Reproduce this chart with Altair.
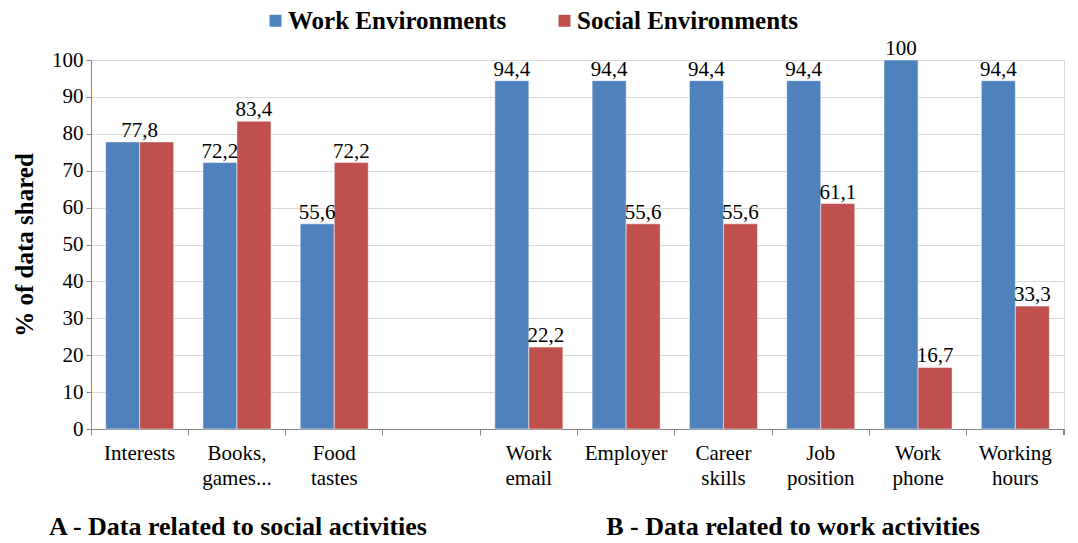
import altair as alt
import pandas as pd

categories = ["Interests", "Books,\ngames...", "Food\ntastes", " ", "Work\nemail",
              "Employer", "Career\nskills", "Job\nposition", "Work\nphone", "Working\nhours"]
work = [77.8, 72.2, 55.6, None, 94.4, 94.4, 94.4, 94.4, 100, 94.4]
social = [77.8, 83.4, 72.2, None, 22.2, 55.6, 55.6, 61.1, 16.7, 33.3]
series = ["Work Environments", "Social Environments"]
colors = ["#4F81BD", "#C0504D"]
captions = ["A - Data related to social activities", "B - Data related to work activities"]


def fmt(v):
    return (str(int(v)) if float(v).is_integer() else str(v)).replace(".", ",")


rows, single, paired = [], [], []
for c, w, s in zip(categories, work, social):
    if w is not None:
        rows.append({"cat": c, "series": series[0], "value": w})
    if s is not None:
        rows.append({"cat": c, "series": series[1], "value": s})
    if w is None:
        continue
    if w == s:
        single.append({"cat": c, "value": w, "label": fmt(w)})
    else:
        paired.append({"cat": c, "series": series[0], "value": w, "label": fmt(w)})
        paired.append({"cat": c, "series": series[1], "value": s, "label": fmt(s)})
df = pd.DataFrame(rows)
df_pair = pd.DataFrame(paired)
df_single = pd.DataFrame(single)

W, H = 973, 369
FONT = "Liberation Serif, Tinos, Times New Roman, DejaVu Serif, serif"
AX = "#868686"

xscale = alt.Scale(domain=categories, paddingInner=0, paddingOuter=0)
xenc = alt.X("cat:N", scale=xscale, sort=categories,
             axis=alt.Axis(title=None, labels=False, bandPosition=0, tickSize=6,
                           tickColor=AX, domainColor=AX, grid=False))
xoff = alt.XOffset("series:N", sort=series,
                   scale=alt.Scale(domain=series, paddingInner=0, paddingOuter=0.43))
yaxis = alt.Axis(title="% of data shared", values=list(range(0, 101, 10)), labelOverlap=False,
                 titleFont=FONT, titleFontSize=25, titleFontWeight="bold",
                 titleColor="black", titlePadding=14,
                 labelFont=FONT, labelFontSize=21, labelColor="black",
                 labelPadding=3, tickSize=5, tickColor=AX, domainColor=AX,
                 gridColor="#D9D9D9")
yenc = alt.Y("value:Q", scale=alt.Scale(domain=[0, 100]), axis=yaxis)

bars = alt.Chart(df).mark_bar(stroke="white", strokeWidth=0.5).encode(
    x=xenc, xOffset=xoff, y=yenc,
    color=alt.Color("series:N", sort=series,
                    scale=alt.Scale(domain=series, range=colors),
                    legend=alt.Legend(title=None, orient="none", direction="horizontal",
                                      legendX=172, legendY=-52, symbolType="square",
                                      symbolSize=144, symbolStrokeWidth=0,
                                      labelFont=FONT, labelFontSize=25, labelLimit=600,
                                      labelFontWeight="bold", labelColor="black",
                                      labelOffset=0, columnPadding=45, padding=0)),
)
vals = alt.Chart(df_pair).mark_text(baseline="bottom", dy=-1, font=FONT, fontSize=21,
                                    color="black").encode(
    x=alt.X("cat:N", scale=xscale, sort=categories), xOffset=xoff,
    y=yenc, text="label:N")
vals1 = alt.Chart(df_single).mark_text(baseline="bottom", dy=-1, font=FONT, fontSize=21,
                                       color="black").encode(
    x=alt.X("cat:N", scale=xscale, sort=categories), y=yenc, text="label:N")

catdf = pd.DataFrame({"cat": categories})
catlabels = alt.Chart(catdf).mark_text(baseline="top", lineBreak="\n", font=FONT,
                                       fontSize=21, lineHeight=25, color="black").encode(
    x=alt.X("cat:N", scale=xscale, sort=categories), y=alt.value(H + 14), text="cat:N")

endtick = alt.Chart(catdf).mark_rule(color=AX).encode(
    x=alt.value(W), y=alt.value(H), y2=alt.value(H + 6))

capA = alt.Chart(pd.DataFrame({"t": [captions[0]]})).mark_text(
    font=FONT, fontSize=26, fontWeight="bold", color="black", baseline="middle").encode(
    x=alt.value(147), y=alt.value(H + 98), text="t:N")
capB = alt.Chart(pd.DataFrame({"t": [captions[1]]})).mark_text(
    font=FONT, fontSize=26, fontWeight="bold", color="black", baseline="middle").encode(
    x=alt.value(702), y=alt.value(H + 98), text="t:N")

chart = alt.layer(bars, vals, vals1, catlabels, endtick, capA, capB).properties(
    width=W, height=H,
    autosize=alt.AutoSizeParams(type="none"),
    padding={"left": 83, "top": 52, "right": 6, "bottom": 114},
).configure_view(stroke=None).configure(font=FONT)

chart.save("out.html", embed_options={"renderer": "svg", "actions": False})
